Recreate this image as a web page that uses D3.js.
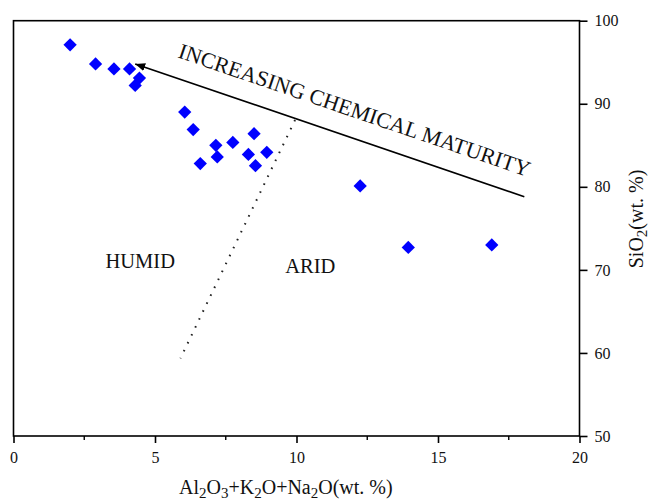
<!DOCTYPE html>
<html>
<head>
<meta charset="utf-8">
<script src="https://cdn.jsdelivr.net/npm/d3@7"></script>
<style>
  body { margin: 0; background: #fff; overflow: hidden; }
  svg { display: block; }
</style>
</head>
<body>
<div id="chart"></div>
<script>
// Samples: total oxides (x) vs SiO2 (y)
const oxides = [2.0, 2.9, 3.55, 4.1, 4.45, 4.3, 6.05, 6.35, 7.15, 7.75, 8.5, 7.2, 6.6, 8.3, 8.95, 8.55, 12.25, 13.95, 16.9];
const silica = [97.1, 94.8, 94.2, 94.2, 93.1, 92.2, 89.0, 86.9, 85.0, 85.35, 86.4, 83.6, 82.8, 83.9, 84.15, 82.55, 80.1, 72.7, 73.0];

const xTicks = [0, 5, 10, 15, 20];
const xMinorTicks = [2.5, 7.5, 12.5, 17.5];
const yTicks = [50, 60, 70, 80, 90, 100];

// maturity arrow: [x, y] from tail to head
const arrowLine = [[18.05, 78.8], [4.3, 94.8]];
// humid/arid divider
const dividerLine = [[9.95, 88.05], [5.9, 59.35]];

const serif = "Liberation Serif, Times New Roman, serif";
const width = 651;
const height = 502;
const margin = { top: 20.7, right: 71.5, bottom: 66, left: 13.5 };
const innerWidth = width - margin.left - margin.right;
const innerHeight = height - margin.top - margin.bottom;

const svg = d3.select("#chart")
    .append("svg")
    .attr("width", width)
    .attr("height", height)
    .attr("font-family", serif);

const g = svg.append("g")
    .attr("transform", `translate(${margin.left}, ${margin.top})`);

const xScale = d3.scaleLinear().domain([0, 20]).range([0, innerWidth]);
const yScale = d3.scaleLinear().domain([50, 100]).range([innerHeight, 0]);

const defs = svg.append("defs");
defs.append("marker")
    .attr("id", "arrow-head")
    .attr("viewBox", "0 0 10 10")
    .attr("refX", 10)
    .attr("refY", 5)
    .attr("markerWidth", 10)
    .attr("markerHeight", 10)
    .attr("markerUnits", "userSpaceOnUse")
    .attr("orient", "auto")
    .append("path")
    .attr("d", "M0,1 L10,5 L0,9 Z")
    .attr("fill", "#000");

// frame
g.append("rect")
    .attr("width", innerWidth)
    .attr("height", innerHeight)
    .attr("fill", "none")
    .attr("stroke", "#000")
    .attr("stroke-width", 1.6);

// bottom axis
const bottomAxis = d3.axisBottom(xScale)
    .tickValues(xTicks)
    .tickSize(7)
    .tickPadding(9)
    .tickFormat(d3.format("d"));

const xAxis = g.append("g")
    .attr("transform", `translate(0, ${innerHeight})`)
    .call(bottomAxis)
    .attr("font-family", serif)
    .attr("font-size", 16);
xAxis.select(".domain").remove();
xAxis.selectAll(".tick line").attr("stroke-width", 1.6);
xAxis.selectAll(".tick text").attr("fill", "#111");

g.append("g")
    .attr("transform", `translate(0, ${innerHeight})`)
    .selectAll("line")
    .data(xMinorTicks)
    .join("line")
    .attr("x1", d => xScale(d))
    .attr("x2", d => xScale(d))
    .attr("y1", 0)
    .attr("y2", 4)
    .attr("stroke", "#000")
    .attr("stroke-width", 1.4);

// right axis
const rightAxis = d3.axisRight(yScale)
    .tickValues(yTicks)
    .tickSize(8)
    .tickPadding(7)
    .tickFormat(d3.format("d"));

const yAxis = g.append("g")
    .attr("transform", `translate(${innerWidth}, 0)`)
    .call(rightAxis)
    .attr("font-family", serif)
    .attr("font-size", 16);
yAxis.select(".domain").remove();
yAxis.selectAll(".tick line").attr("stroke-width", 1.6);
yAxis.selectAll(".tick text").attr("fill", "#111");

// divider (dotted)
const line = d3.line()
    .x(d => xScale(d[0]))
    .y(d => yScale(d[1]));

g.append("path")
    .attr("d", line(dividerLine))
    .attr("fill", "none")
    .attr("stroke", "#222")
    .attr("stroke-width", 2)
    .attr("stroke-dasharray", "1.6,7.2");

// maturity arrow
g.append("path")
    .attr("d", line(arrowLine))
    .attr("fill", "none")
    .attr("stroke", "#000")
    .attr("stroke-width", 1.6)
    .attr("marker-end", "url(#arrow-head)");

// points
const points = oxides.map((x, i) => ({ x, y: silica[i] }));
const diamond = d3.symbol(d3.symbolSquare, 88);

g.selectAll(".pt")
    .data(points)
    .join("path")
    .attr("class", "pt")
    .attr("d", diamond)
    .attr("transform", d => `translate(${xScale(d.x)}, ${yScale(d.y)}) rotate(45)`)
    .attr("fill", "#0000ff");

// annotation text
const angle = Math.atan2(
    yScale(arrowLine[1][1]) - yScale(arrowLine[0][1]),
    xScale(arrowLine[1][0]) - xScale(arrowLine[0][0])
) * 180 / Math.PI + 180;

g.append("text")
    .attr("x", xScale(5.78))
    .attr("y", yScale(95.6))
    .attr("transform", `rotate(${angle}, ${xScale(5.78)}, ${yScale(95.6)})`)
    .attr("font-size", 21.9)
    .attr("fill", "#111")
    .text("INCREASING CHEMICAL MATURITY");

g.append("text")
    .attr("x", xScale(3.25))
    .attr("y", yScale(70.25))
    .attr("font-size", 20.5)
    .attr("fill", "#111")
    .text("HUMID");

g.append("text")
    .attr("x", xScale(9.6))
    .attr("y", yScale(69.6))
    .attr("font-size", 20.5)
    .attr("fill", "#111")
    .text("ARID");

// axis titles (subscripts via baseline-shift)
const sub = (sel, t) => sel.append("tspan")
    .attr("baseline-shift", "-3.5")
    .attr("font-size", 15)
    .text(t);

const xTitle = svg.append("text")
    .attr("x", 179)
    .attr("y", 494)
    .attr("font-size", 20)
    .attr("fill", "#111");
xTitle.append("tspan").text("Al");
sub(xTitle, "2");
xTitle.append("tspan").text("O");
sub(xTitle, "3");
xTitle.append("tspan").text("+K");
sub(xTitle, "2");
xTitle.append("tspan").text("O+Na");
sub(xTitle, "2");
xTitle.append("tspan").text("O(wt. %)");

const yTitle = svg.append("text")
    .attr("text-anchor", "middle")
    .attr("transform", "translate(643, 219) rotate(-90)")
    .attr("font-size", 20)
    .attr("fill", "#111");
yTitle.append("tspan").text("SiO");
sub(yTitle, "2");
yTitle.append("tspan").text("(wt. %)");
</script>
</body>
</html>
